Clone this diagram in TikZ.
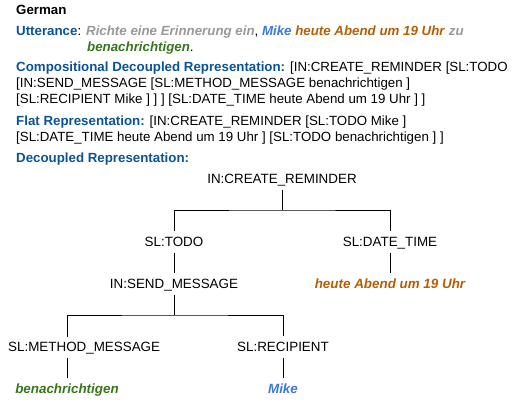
\documentclass[tikz,border=0pt]{standalone}
\usepackage{fontspec}
\setmainfont{Liberation Sans}
\usepackage{tikz}
\usetikzlibrary{positioning}
\definecolor{headblue}{HTML}{0B5394}
\definecolor{uttgray}{HTML}{999999}
\definecolor{mikeblue}{HTML}{3C78D8}
\definecolor{timeorange}{HTML}{B45F06}
\definecolor{methodgreen}{HTML}{38761D}
\newcommand{\hd}[1]{\textcolor{headblue}{\textbf{#1}}}
\newcommand{\ut}[2]{\textcolor{#1}{\textbf{\textit{#2}}}}
\tikzset{
	txtline/.style={anchor=base west,inner sep=0pt,font=\fontsize{13.3}{16}\selectfont},
	slot/.style={inner xsep=0pt,inner ysep=6pt,text height=9pt,text depth=0pt,font=\fontsize{13.4}{16}\selectfont},
	leaf/.style={slot,font=\fontsize{13.4}{16}\selectfont\bfseries\itshape},
	branch/.style={line width=0.9pt},
}
\begin{document}
\begin{tikzpicture}[x=1pt,y=-1pt]
		
		\useasboundingbox (0,0) rectangle (515,403);
		
		\node[txtline] (lang) at (16,15) {\textbf{German}};
		
		\node[txtline] (utt) at (16,36)
		{\hd{Utterance}: \ut{uttgray}{Richte eine Erinnerung ein}, \ut{mikeblue}{Mike} \ut{timeorange}{heute Abend um 19 Uhr} \ut{uttgray}{zu}};
		\node[txtline] (uttcont) at (87,52) {\ut{methodgreen}{benachrichtigen}.};
		
		\node[txtline] (comp) at (16,72)
		{\hd{Compositional Decoupled Representation:} [IN:CREATE\_REMINDER [SL:TODO};
		\node[txtline] (compb) at (16,88) {[IN:SEND\_MESSAGE [SL:METHOD\_MESSAGE benachrichtigen ]};
		\node[txtline] (compc) at (16,104) {[SL:RECIPIENT Mike ] ] ] [SL:DATE\_TIME heute Abend um 19 Uhr ] ]};
		
		\node[txtline] (flat) at (16,126)
		{\hd{Flat Representation:} [IN:CREATE\_REMINDER [SL:TODO Mike ]};
		\node[txtline] (flatb) at (16,142) {[SL:DATE\_TIME heute Abend um 19 Uhr ] [SL:TODO benachrichtigen ] ]};
		
		\node[txtline] (dec) at (16,163) {\hd{Decoupled Representation:}};
		
		\node[slot] (root) at (282,179) {IN:CREATE\_REMINDER};
		\node[slot] (todo) at (174,242) {SL:TODO};
		\node[slot] (datetime) at (390,242) {SL:DATE\_TIME};
		\node[slot] (send) at (174,284) {IN:SEND\_MESSAGE};
		\node[leaf,text=timeorange] (time) at (390,284) {heute Abend um 19 Uhr};
		\node[slot,anchor=west] (method) at (8,347) {SL:METHOD\_MESSAGE};
		\node[slot] (recip) at (283,347) {SL:RECIPIENT};
		\node[leaf,text=methodgreen] (bena) at (67,389) {benachrichtigen};
		\node[leaf,text=mikeblue] (mike) at (283,389) {Mike};
		
		\coordinate (rootbar) at (282,210);
		\coordinate (sendbar) at (174,315);
		\coordinate (methodtop) at (67,337);
		
		\draw[branch] (root) -- (rootbar);
		\draw[branch] (todo) |- (rootbar) -| (datetime);
		\draw[branch] (todo) -- (send);
		\draw[branch] (datetime) -- (time);
		\draw[branch] (send) -- (sendbar);
		\draw[branch] (methodtop) |- (sendbar) -| (recip);
		\draw[branch] (bena) -- (bena |- method.south);
		\draw[branch] (recip) -- (mike);
		
	\end{tikzpicture}
\end{document}
